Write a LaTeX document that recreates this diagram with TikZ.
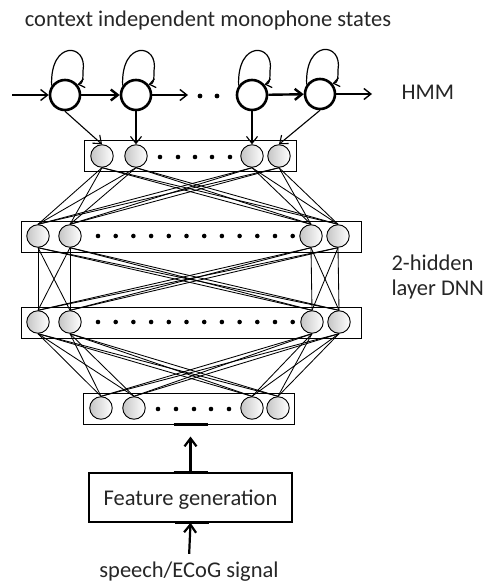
\documentclass[tikz,border=0pt]{standalone}
\usepackage{fontspec}
\setmainfont{Carlito}
\usetikzlibrary{arrows.meta, calc}
\tikzset{
    state/.style   = {draw, circle, line width=2.6pt, minimum size=30pt, inner sep=0pt, fill=white},
    unit/.style    = {draw, circle, line width=0.9pt, minimum size=22.5pt, inner sep=0pt, left color=gray!45, right color=white},
    layer/.style   = {draw, rectangle, line width=1pt, inner sep=0pt, minimum height=31pt},
    featbox/.style = {draw, rectangle, line width=1.4pt, minimum width=203pt, minimum height=49pt, text depth=0pt},
    caption/.style = {font=\fontsize{22.5}{27}\selectfont, text=black!85},
    conn/.style    = {line width=0.85pt},
    barb/.style    = {-{Straight Barb[length=7pt, width=11pt]}},
    emit/.style    = {barb, line width=1.1pt},
    trans/.style   = {barb, line width=2.4pt},
    thin/.style    = {barb, line width=1.4pt},
    selfloop/.style= {-{Straight Barb[length=6pt, width=9pt]}, line width=1.2pt},
    feed/.style    = {-{Straight Barb[length=8pt, width=12pt]}, line width=2.2pt},
    port/.style    = {line width=3pt},
}

\begin{document}
\begin{tikzpicture}[x=1pt, y=1pt]
  \useasboundingbox (0,0) rectangle (489,-583);

  % HMM states
  \node [caption, anchor=base] (title) at (208,-26.5) {context independent monophone states};
  \node [state] (s1) at (65,-95) {};
  \node [state] (s2) at (136,-95) {};
  \node [state] (s3) at (252,-95) {};
  \node [state] (s4) at (320,-94) {};
  \node [caption, anchor=base west] (hmm) at (398,-100) {HMM};
  \coordinate (hmmin) at (12,-95);
  \coordinate (hmmgap) at (188,-95);
  \coordinate (hmmout) at (372,-94);
  \foreach \x in {200,217} \fill (\x,-96) circle (2.4pt);

  \draw [thin] (hmmin) -- (s1);
  \draw [trans] (s1) -- (s2);
  \draw [thin] (s2) -- (hmmgap);
  \draw [trans] (s3) -- (s4);
  \draw [thin] (s4) -- (hmmout);
  \foreach \s in {s1,s2,s3,s4}
    \draw [selfloop] (\s.145) .. controls +(-2,46) and +(5,28) .. ([shift={(18,24)}]\s.center)
                              .. controls +(0,-10) and +(5,1) .. (\s.40);

  % DNN layers
  \node [layer, minimum width=212pt] (outl) at (190,-155.5) {};
  \node [layer, minimum width=340pt] (hidal) at (191,-236.5) {};
  \node [layer, minimum width=340pt] (hidbl) at (191,-322.5) {};
  \node [layer, minimum width=211pt] (inl) at (188.5,-408.5) {};

  \node [unit] (out1) at (102,-156) {};
  \node [unit] (out2) at (136,-156) {};
  \node [unit] (out3) at (252,-156) {};
  \node [unit] (out4) at (279,-156) {};
  \node [unit] (hida1) at (38,-236) {};
  \node [unit] (hida2) at (70,-236) {};
  \node [unit] (hida3) at (311,-236) {};
  \node [unit] (hida4) at (338,-236) {};
  \node [unit] (hidb1) at (38,-322) {};
  \node [unit] (hidb2) at (70,-322) {};
  \node [unit] (hidb3) at (312,-322) {};
  \node [unit] (hidb4) at (339,-322) {};
  \node [unit] (in1) at (101,-408) {};
  \node [unit] (in2) at (134,-408) {};
  \node [unit] (in3) at (252,-408) {};
  \node [unit] (in4) at (278,-408) {};

  \foreach \x in {160,178,195,212,230} \fill (\x,-157) circle (2.3pt);
  \foreach \i in {0,...,11} {
    \fill (98+17.7*\i,-236) circle (2.3pt);
    \fill (98+17.7*\i,-322) circle (2.3pt);
  }
  \foreach \x in {158,176,194,211,229} \fill (\x,-409) circle (2.3pt);

  \foreach \i in {1,...,4}
    \foreach \j in {1,...,4} {
      \draw [conn] (out\i.south) -- (hida\j.north);
      \draw [conn] (hida\i.south) -- (hidb\j.north);
      \draw [conn] (hidb\i.south) -- (in\j.north);
    }

  \draw [emit] (s1.south) -- (out1.north);
  \draw [emit] (s2.south) -- (out2.north);
  \draw [emit] (s3.south) -- (out3.north);
  \draw [emit] (s4.south) -- (out4.north);

  \node [caption, anchor=base west] (dnn1) at (388,-270) {2-hidden};
  \node [caption, anchor=base west] (dnn2) at (388,-295) {layer DNN};

  % feature extraction
  \node [featbox, caption] (feat) at (190.5,-497.5) {Feature generation};
  \node [caption, anchor=base] (sig) at (189,-577) {speech/ECoG signal};

  \draw [port] ($(inl.south)+(-15,0)$) -- ++(34,0);
  \draw [port] ($(feat.north)+(-17,0)$) -- ++(34,0);
  \draw [port] ($(feat.south)+(-16,0)$) -- ++(34,0);
  \draw [feed, shorten >=12pt] (feat.north) -- (feat.north |- inl.south);
  \draw [feed, shorten <=4pt] (sig.north) -- (feat.south);
\end{tikzpicture}
\end{document}
